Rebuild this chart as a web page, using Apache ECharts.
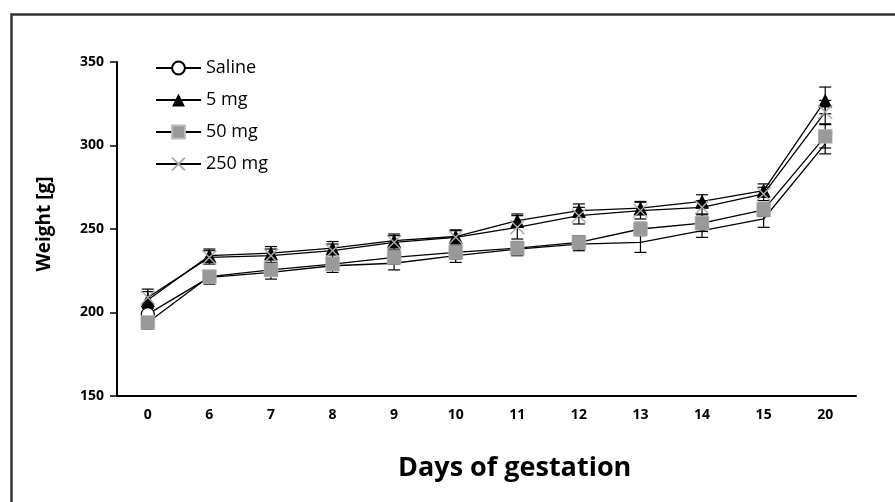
<!DOCTYPE html>
<html><head><meta charset="utf-8">
<script src="https://cdn.jsdelivr.net/npm/echarts@6/dist/echarts.min.js"></script>
<style>html,body{margin:0;padding:0;background:#fff}#c{width:895px;height:502px}</style>
</head><body><div id="c"></div>
<script>
const days = ['0','6','7','8','9','10','11','12','13','14','15','20'];
const yTicks = [150, 200, 250, 300, 350];
const seriesNames = ['Saline', '5 mg', '50 mg', '250 mg'];
const saline = [199, 221, 224, 228, 229.5, 234, 238, 241, 242, 249, 256, 301];
const mg5    = [207.5, 234, 235.5, 238.5, 243, 245.5, 255, 261, 262.5, 266.5, 273, 327];
const mg50   = [194, 221.5, 225.5, 229, 233, 236, 238.5, 242, 250, 253.5, 261.5, 305.5];
const mg250  = [209, 233, 234, 237, 242, 245, 251, 258, 261, 263, 271, 320];
const salineErr = [4, 4, 4, 4, 4, 4, 4, 4, 6, 4, 5, 6];
const mg5Err    = [5, 4, 4, 4, 4, 4, 4, 4, 4, 4, 4, 8];
const mg50Err   = [4, 3, 3, 3, 4, 4, 4, 4, 4, 5, 4, 7];
const mg250Err  = [5, 4, 4, 4, 4, 4, 7, 5, 5, 4, 4, 7];

const FONT = '"Open Sans", "Noto Sans", sans-serif';
const chart = echarts.init(document.getElementById('c'), null, {renderer: 'canvas'});

function errSeries(name, vals, errs) {
  return {
    type: 'custom', name: name + ' err', z: 1, silent: true,
    encode: {x: 0, y: 1},
    data: vals.map((v, i) => [i, v, errs[i]]),
    renderItem: function (params, api) {
      const i = api.value(0), v = api.value(1), e = api.value(2);
      const top = api.coord([i, v + e]);
      const bot = api.coord([i, v - e]);
      const hw = 6;
      const st = {stroke: '#000', lineWidth: 1.2};
      return {type: 'group', children: [
        {type: 'line', shape: {x1: top[0], y1: top[1], x2: bot[0], y2: bot[1]}, style: st},
        {type: 'line', shape: {x1: top[0]-hw, y1: top[1], x2: top[0]+hw, y2: top[1]}, style: st},
        {type: 'line', shape: {x1: bot[0]-hw, y1: bot[1], x2: bot[0]+hw, y2: bot[1]}, style: st}
      ]};
    }
  };
}

// In the reference only the first open circle is visible; the others are hidden.
const salineData = saline.map((v, i) => i === 0 ? v : {value: v, itemStyle: {opacity: 0}});

const lineStyle = {color: '#000', width: 1.3};
const option = {
  animation: false,
  backgroundColor: '#fff',
  grid: {left: 117, right: 39, top: 62, bottom: 106, containLabel: false},
  legend: {
    data: seriesNames,
    orient: 'vertical', left: 155, top: 59, padding: 0,
    itemWidth: 45, itemHeight: 16, itemGap: 16,
    textStyle: {fontFamily: FONT, fontSize: 18, color: '#000', lineHeight: 16}
  },
  xAxis: {
    type: 'category', data: days, boundaryGap: true,
    axisLine: {lineStyle: {color: '#000', width: 2}},
    axisTick: {show: false},
    axisLabel: {color: '#000', fontFamily: FONT, fontWeight: 'bold', fontSize: 14, margin: 12},
    splitLine: {show: false}
  },
  yAxis: {
    type: 'value', min: yTicks[0], max: yTicks[yTicks.length-1], interval: 50,
    axisLine: {show: true, lineStyle: {color: '#000', width: 2}},
    axisTick: {show: true, length: 7, lineStyle: {color: '#000', width: 1.5}},
    axisLabel: {color: '#000', fontFamily: FONT, fontWeight: 'bold', fontSize: 14, margin: 13},
    splitLine: {show: false}
  },
  graphic: [
    {type: 'rect', left: 9, top: 12, shape: {width: 900, height: 500},
     style: {fill: 'none', stroke: '#333', lineWidth: 2.5}, silent: true},
    {type: 'text', left: 398, top: 455,
     style: {text: 'Days of gestation', font: 'bold 27px ' + FONT, fill: '#000'}},
    {type: 'text', x: 45, y: 224, rotation: Math.PI/2,
     style: {text: 'Weight [g]', font: 'bold 19px ' + FONT, fill: '#000', textAlign: 'center', textVerticalAlign: 'middle'}}
  ],
  series: [
    errSeries('Saline', saline, salineErr),
    errSeries('5 mg', mg5, mg5Err),
    errSeries('50 mg', mg50, mg50Err),
    errSeries('250 mg', mg250, mg250Err),
    {name: 'Saline', type: 'line', data: salineData, z: 3, symbol: 'circle', symbolSize: 13,
     itemStyle: {color: '#fff', borderColor: '#000', borderWidth: 1.2}, lineStyle: lineStyle},
    {name: '5 mg', type: 'line', data: mg5, z: 4, symbol: 'triangle', symbolSize: 14,
     itemStyle: {color: '#000', borderColor: '#000', borderWidth: 0}, lineStyle: lineStyle},
    {name: '50 mg', type: 'line', data: mg50, z: 5, symbol: 'rect', symbolSize: 14,
     itemStyle: {color: '#999', borderColor: '#bbb', borderWidth: 0.5}, lineStyle: lineStyle},
    {name: '250 mg', type: 'line', data: mg250, z: 6, symbol: 'path://M0,0L10,10M10,0L0,10', symbolSize: 14,
     itemStyle: {color: 'none', borderColor: '#aaa', borderWidth: 1.4}, lineStyle: lineStyle}
  ]
};
option.legend.itemGap = 14;
chart.setOption(option);
</script></body></html>
